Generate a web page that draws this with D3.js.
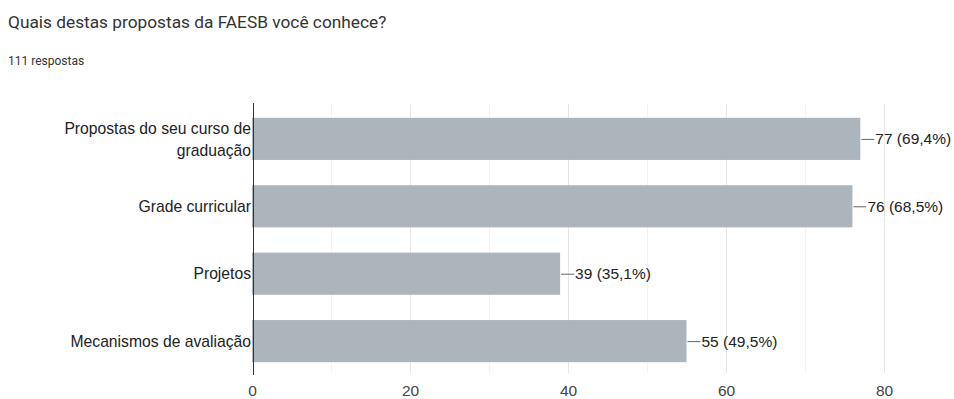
<!DOCTYPE html>
<html>
<head>
<meta charset="utf-8">
<script src="https://cdn.jsdelivr.net/npm/d3@7"></script>
<style>
  html, body { margin: 0; padding: 0; background: #fff; }
  svg { display: block; }
</style>
</head>
<body>
<svg id="chart" width="954" height="399"></svg>
<script>
// Survey question and answer counts
const title = "Quais destas propostas da FAESB você conhece?";
const subtitle = "111 respostas";
const categories = [
  ["Propostas do seu curso de", "graduação"],
  ["Grade curricular"],
  ["Projetos"],
  ["Mecanismos de avaliação"]
];
const counts = [77, 76, 39, 55];
const percents = ["69,4%", "68,5%", "35,1%", "49,5%"];
const xTicks = [0, 20, 40, 60, 80];
const xGrid = [10, 20, 30, 40, 50, 60, 70, 80];

const chartFont = "'Liberation Sans', Arial, sans-serif";
const svg = d3.select("#chart");
const margin = { left: 253, top: 105 };

svg.append("text")
  .attr("x", 8).attr("y", 28)
  .attr("font-family", "Roboto, Arial, sans-serif")
  .attr("font-size", 17.3)
  .attr("fill", "#333")
  .text(title);

svg.append("text")
  .attr("x", 8).attr("y", 65)
  .attr("font-family", "Roboto, Arial, sans-serif")
  .attr("font-size", 12)
  .attr("fill", "#333")
  .text(subtitle);

const x = d3.scaleLinear().domain([0, 80]).range([margin.left - 1, 884]);
const y = d3.scaleBand().domain(d3.range(categories.length))
  .range([margin.top, 375]).paddingInner(0.375).paddingOuter(0.19);

// vertical gridlines
svg.append("g").selectAll("line").data(xGrid).join("line")
  .attr("x1", d => x(d) + 0.5).attr("x2", d => x(d) + 0.5)
  .attr("y1", 104).attr("y2", 373)
  .attr("stroke", d => d % 20 === 0 ? "#e6e6e6" : "#f2f2f2")
  .attr("stroke-width", 1);

// bars
svg.append("g").selectAll("rect").data(counts).join("rect")
  .attr("x", x(0))
  .attr("y", (d, i) => y(i))
  .attr("width", d => x(d) - x(0))
  .attr("height", y.bandwidth())
  .attr("fill", "#adb5bc");

// value labels with leader lines
const lab = svg.append("g");
counts.forEach((d, i) => {
  const cy = y(i) + y.bandwidth() / 2;
  lab.append("line")
    .attr("x1", x(d) + 1).attr("x2", x(d) + 14)
    .attr("y1", cy + 0.5).attr("y2", cy + 0.5)
    .attr("stroke", "#666").attr("stroke-width", 1);
  lab.append("text")
    .attr("x", x(d) + 15).attr("y", cy)
    .attr("dy", "0.36em")
    .attr("font-family", chartFont)
    .attr("font-size", 15.5)
    .attr("fill", "#222")
    .text(`${d} (${percents[i]})`);
});

// category labels
const cat = svg.append("g");
categories.forEach((lines, i) => {
  const cy = y(i) + y.bandwidth() / 2;
  const t = cat.append("text")
    .attr("text-anchor", "end")
    .attr("font-family", chartFont)
    .attr("font-size", 15.7)
    .attr("fill", "#222");
  const lh = 22;
  lines.forEach((s, k) => {
    t.append("tspan")
      .attr("x", margin.left - 2)
      .attr("y", cy + (k - (lines.length - 1) / 2) * lh)
      .attr("dy", "0.36em")
      .text(s);
  });
});

// left axis line
svg.append("line")
  .attr("x1", margin.left + 0.5).attr("x2", margin.left + 0.5)
  .attr("y1", 103).attr("y2", 375)
  .attr("stroke", "#333").attr("stroke-width", 1);

// x axis tick labels
const xAxis = d3.axisBottom(x).tickValues(xTicks).tickSize(0).tickPadding(0);
const gx = svg.append("g").attr("transform", "translate(0,396)").call(xAxis);
gx.select(".domain").remove();
gx.selectAll("text")
  .attr("font-family", chartFont)
  .attr("font-size", 15.5)
  .attr("fill", "#444")
  .attr("dy", "0em");
</script>
</body>
</html>
